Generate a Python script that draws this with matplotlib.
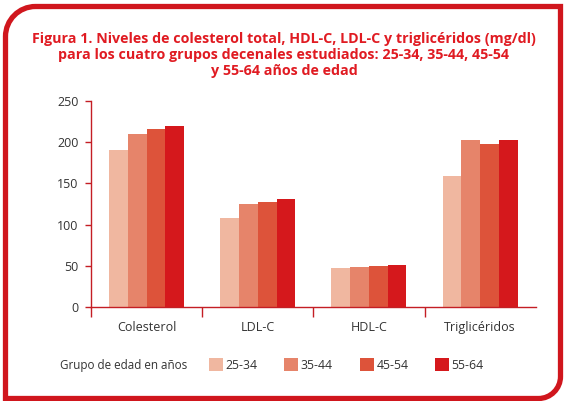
import matplotlib
matplotlib.use("Agg")
import matplotlib.pyplot as plt
import numpy as np
from matplotlib.path import Path
from matplotlib.patches import PathPatch, Patch
from matplotlib.transforms import IdentityTransform

categories = ["Colesterol", "LDL-C", "HDL-C", "Triglicéridos"]
groups = ["25-34", "35-44", "45-54", "55-64"]
v_25_34 = [190, 108, 47, 159]
v_35_44 = [210, 125, 48.5, 203]
v_45_54 = [216, 127, 50, 198]
v_55_64 = [220, 131, 51, 203]
series = [v_25_34, v_35_44, v_45_54, v_55_64]
yticks = [0, 50, 100, 150, 200, 250]

colors = ["#F0B7A0", "#E6846A", "#DD533A", "#D5181C"]
axis_red = "#C41E24"
text_gray = "#333333"
title_red = "#E01B22"

plt.rcParams['font.family'] = ['Open Sans', 'DejaVu Sans']

fig = plt.figure(figsize=(5.68, 4.01), dpi=100, facecolor="white")
W, H = 568, 401

# rounded frame (display pixel coords)
x0, x1 = 5.5, 560.5
yb, yt = H - 398.5, H - 6.5
r1, r2 = 30, 22
k = 0.5523
verts = [
    (x0, yb),
    (x0, yt - r1),
    (x0, yt - r1 + k * r1), (x0 + r1 - k * r1, yt), (x0 + r1, yt),
    (x1, yt),
    (x1, yb + r2),
    (x1, yb + r2 - k * r2), (x1 - r2 + k * r2, yb), (x1 - r2, yb),
    (x0, yb),
]
codes = [Path.MOVETO, Path.LINETO, Path.CURVE4, Path.CURVE4, Path.CURVE4,
         Path.LINETO, Path.LINETO, Path.CURVE4, Path.CURVE4, Path.CURVE4,
         Path.CLOSEPOLY]
frame = PathPatch(Path(verts, codes), facecolor="none", edgecolor="#D0161D",
                  lw=3.8, transform=IdentityTransform(), zorder=5)
fig.patches.append(frame)

ax = fig.add_axes([91 / W, 1 - 307 / H, (535.7 - 91) / W, (307 - 101) / H])
ax.set_facecolor("none")

n = len(groups)
group_w = 0.675
bw = group_w / n
x = np.arange(len(categories))
for i, (vals, c) in enumerate(zip(series, colors)):
    ax.bar(x - group_w / 2 + bw * (i + 0.5), vals, width=bw, color=c,
           label=groups[i], linewidth=0)

ax.set_xlim(-0.5, len(categories) - 0.5)
ax.set_ylim(0, 250)
ax.set_yticks(yticks)
ax.set_xticks(x)
ax.set_xticklabels(categories)
ax.set_xticks(np.arange(-0.5, len(categories) - 0.5, 1.0), minor=True)
for s in ["top", "right"]:
    ax.spines[s].set_visible(False)
for s in ["left", "bottom"]:
    ax.spines[s].set_color(axis_red)
    ax.spines[s].set_linewidth(1.0)
ax.tick_params(axis="y", colors=axis_red, labelcolor=text_gray, length=4,
               width=1, labelsize=9, pad=5)
ax.tick_params(axis="x", which="major", length=0, labelcolor=text_gray,
               labelsize=9, pad=10)
ax.tick_params(axis="x", which="minor", length=7, width=1, color=axis_red)

fig.text(0.5, 1 - 55 / H,
         "Figura 1. Niveles de colesterol total, HDL-C, LDL-C y triglicéridos (mg/dl)\n"
         "para los cuatro grupos decenales estudiados: 25-34, 35-44, 45-54\n"
         "y 55-64 años de edad",
         ha="center", va="center", color=title_red, fontsize=10.3,
         fontweight="bold", linespacing=1.17)

fig.text(60 / W, 1 - 365 / H, "Grupo de edad en años", ha="left", va="center",
         color=text_gray, fontsize=8.4)
handles = [Patch(facecolor=c, edgecolor="none") for c in colors]
fig.legend(handles, groups, loc="center left", bbox_to_anchor=(198 / W, 1 - 365 / H),
           ncol=4, frameon=False, fontsize=8.8, handlelength=1.15, handleheight=1.25,
           handletextpad=0.2, columnspacing=2.2, labelcolor=text_gray)

fig.savefig("out.png", dpi=100)
